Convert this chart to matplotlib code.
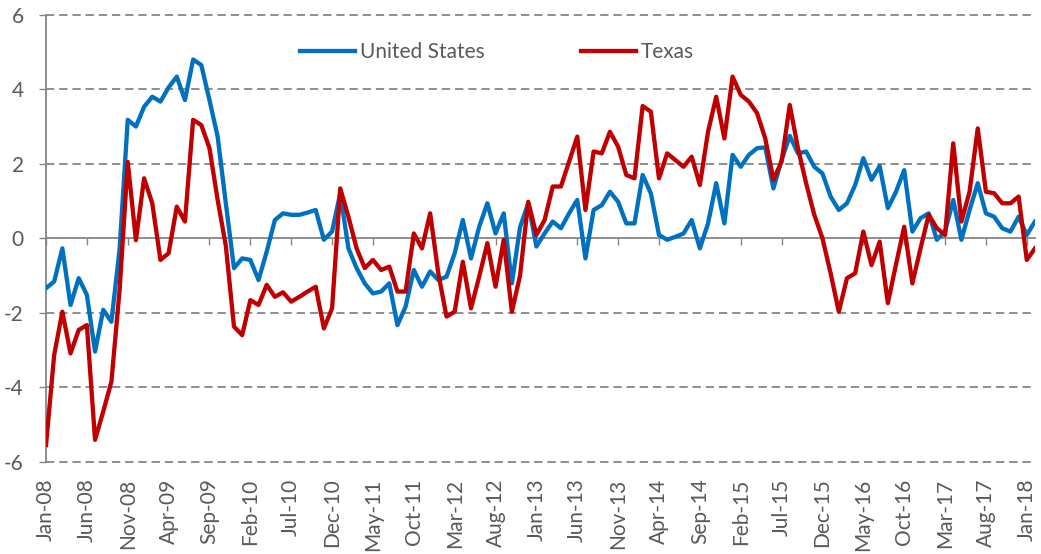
import numpy as np
import matplotlib
matplotlib.use('Agg')
import matplotlib.pyplot as plt

# monthly values, Jan-08 .. Feb-18
us = [-1.34, -1.16, -0.27, -1.79, -1.07, -1.52, -3.04, -1.92, -2.24, -0.30,
      3.18, 3.00, 3.53, 3.80, 3.67, 4.05, 4.34, 3.71, 4.80, 4.65,
      3.71, 2.73, 0.94, -0.80, -0.54, -0.58, -1.12, -0.36, 0.49, 0.67,
      0.63, 0.63, 0.69, 0.76, -0.04, 0.18, 1.21, -0.27, -0.80, -1.21,
      -1.48, -1.43, -1.21, -2.33, -1.83, -0.85, -1.30, -0.89, -1.12, -1.03,
      -0.40, 0.49, -0.54, 0.31, 0.94, 0.13, 0.67, -1.21, 0.30, 0.94,
      -0.22, 0.13, 0.45, 0.27, 0.67, 1.03, -0.54, 0.76, 0.89, 1.25,
      0.98, 0.40, 0.40, 1.70, 1.21, 0.09, -0.04, 0.04, 0.13, 0.49,
      -0.27, 0.40, 1.48, 0.40, 2.24, 1.92, 2.24, 2.42, 2.44, 1.34,
      2.10, 2.75, 2.28, 2.33, 1.92, 1.74, 1.12, 0.76, 0.94, 1.43,
      2.15, 1.57, 1.94, 0.81, 1.25, 1.83, 0.18, 0.54, 0.67, -0.04,
      0.18, 1.03, -0.04, 0.76, 1.48, 0.67, 0.58, 0.27, 0.18, 0.58,
      0.09, 0.45]

texas = [-5.55, -3.13, -1.97, -3.09, -2.46, -2.33, -5.41, -4.65, -3.85, -1.40,
         2.05, -0.05, 1.61, 0.94, -0.58, -0.40, 0.85, 0.45, 3.18, 3.04,
         2.42, 1.03, -0.20, -2.37, -2.60, -1.66, -1.79, -1.25, -1.57, -1.45,
         -1.70, -1.57, -1.43, -1.30, -2.42, -1.88, 1.34, 0.58, -0.27, -0.80,
         -0.58, -0.85, -0.76, -1.43, -1.43, 0.13, -0.27, 0.67, -0.94, -2.10,
         -1.97, -0.63, -1.88, -1.03, -0.13, -1.30, -0.04, -1.97, -1.00, 0.98,
         0.09, 0.49, 1.39, 1.39, 2.06, 2.73, 0.76, 2.33, 2.28, 2.86,
         2.46, 1.70, 1.61, 3.55, 3.40, 1.61, 2.28, 2.10, 1.92, 2.19,
         1.43, 2.86, 3.80, 2.68, 4.34, 3.85, 3.67, 3.36, 2.68, 1.57,
         2.06, 3.58, 2.42, 1.48, 0.63, 0.00, -0.94, -1.97, -1.07, -0.94,
         0.18, -0.72, -0.09, -1.74, -0.70, 0.31, -1.21, -0.27, 0.63, 0.27,
         0.09, 2.55, 0.45, 1.25, 2.95, 1.25, 1.21, 0.94, 0.94, 1.12,
         -0.58, -0.27]

tick_labels = ['Jan-08', 'Jun-08', 'Nov-08', 'Apr-09', 'Sep-09', 'Feb-10', 'Jul-10',
               'Dec-10', 'May-11', 'Oct-11', 'Mar-12', 'Aug-12', 'Jan-13', 'Jun-13',
               'Nov-13', 'Apr-14', 'Sep-14', 'Feb-15', 'Jul-15', 'Dec-15', 'May-16',
               'Oct-16', 'Mar-17', 'Aug-17', 'Jan-18']
y_ticks = [-6, -4, -2, 0, 2, 4, 6]

plt.rcParams['font.family'] = ['Lato', 'DejaVu Sans']
plt.rcParams['axes.unicode_minus'] = False
plt.rcParams['lines.scale_dashes'] = False

blue = '#0070C0'
red = '#C00000'
gray = '#868686'
txt = '#595959'

fig = plt.figure(figsize=(10.41, 5.54), dpi=100)
ax = fig.add_axes([0.0442, 0.1664, 0.9500, 0.8069])

x = np.arange(len(us))
ax.plot(x, us, color=blue, lw=3.1, solid_joinstyle='round', label='United States', zorder=3)
ax.plot(x, texas, color=red, lw=3.1, solid_joinstyle='round', label='Texas', zorder=3)

ax.set_xlim(0, len(us) - 1)
ax.set_ylim(-6, 6)

# dashed gridlines
for yv in y_ticks:
    if yv != 0:
        ax.axhline(yv, color=gray, lw=1.3, linestyle=(0, (6, 3.5)), clip_on=False, zorder=1)

ax.set_yticks(y_ticks)
ax.set_yticklabels([str(v) for v in y_ticks])
ax.tick_params(axis='y', direction='out', length=5, width=1, color=gray,
               labelcolor=txt, labelsize=15, pad=11)

for s in ['top', 'right']:
    ax.spines[s].set_visible(False)
ax.spines['left'].set_color(gray)
ax.spines['left'].set_linewidth(1.3)

# category axis crosses at zero, tick marks pointing down
tick_pos = np.arange(0, len(us), 5)
ax.spines['bottom'].set_position(('data', 0))
ax.spines['bottom'].set_color(gray)
ax.spines['bottom'].set_linewidth(1.3)
ax.spines['bottom'].set_zorder(2)
ax.set_xticks(tick_pos)
ax.tick_params(axis='x', direction='out', length=5, width=1, color=gray, labelbottom=False)

# labels sit below the plot
lab = ax.secondary_xaxis('bottom')
lab.set_xticks(tick_pos)
lab.set_xticklabels(tick_labels, rotation=90)
lab.tick_params(length=0, labelcolor=txt, labelsize=15, pad=12)
lab.spines['bottom'].set_visible(False)

leg = fig.legend(loc='center', bbox_to_anchor=(0.4774, 0.906), ncol=2, frameon=False,
                 fontsize=15, handlelength=2.65, handletextpad=0.25, columnspacing=4.6)
for t in leg.get_texts():
    t.set_color(txt)

fig.savefig('out.png', dpi=100)
